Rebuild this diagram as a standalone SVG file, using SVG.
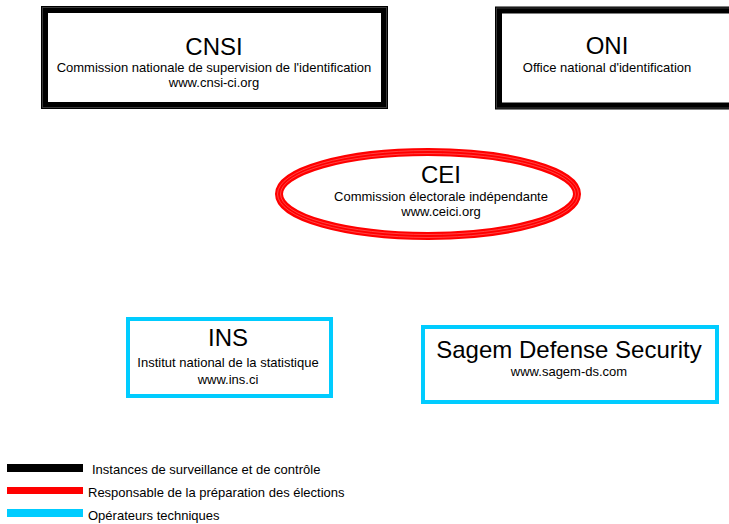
<svg xmlns="http://www.w3.org/2000/svg" width="729" height="524" viewBox="0 0 729 524">
<style>
text{font-family:"Liberation Sans",Arial,sans-serif;fill:#000;text-anchor:middle}
.t{font-size:24px}
.s{font-size:13px}
.blk{fill:#fff;stroke:#000;stroke-width:7}
.blkin{fill:none;stroke:#3a3a3a;stroke-width:1}
.cy{fill:#fff;stroke:#00ccff;stroke-width:4}
.leg{text-anchor:start;font-size:13px}
</style>
<rect width="729" height="524" fill="#fff"/>
<g id="cnsi">
<rect class="blk" x="44.5" y="9.5" width="340" height="96"/>
<rect class="blkin" x="42.5" y="7.5" width="344" height="100"/>
<text class="t" x="214" y="55">CNSI</text>
<text class="s" x="214" y="72">Commission nationale de supervision de l'identification</text>
<text class="s" x="214" y="87">www.cnsi-ci.org</text>
</g>
<g id="oni">
<rect class="blk" x="498.5" y="10" width="240" height="96"/>
<rect class="blkin" x="496.5" y="8" width="244" height="100"/>
<text class="t" x="607" y="54">ONI</text>
<text class="s" x="607" y="72">Office national d'identification</text>
</g>
<g id="cei">
<ellipse cx="428" cy="194" rx="149" ry="42" fill="#fff" stroke="#ff0000" stroke-width="8"/>
<ellipse cx="428" cy="194" rx="150.5" ry="43.5" fill="none" stroke="#ff6060" stroke-width="0.7"/>
<ellipse cx="428" cy="194" rx="147.5" ry="40.5" fill="none" stroke="#ff6060" stroke-width="0.7"/>
<text class="t" x="441" y="183">CEI</text>
<text class="s" x="441" y="201">Commission électorale indépendante</text>
<text class="s" x="441" y="216">www.ceici.org</text>
</g>
<g id="ins">
<rect class="cy" x="128" y="319" width="203" height="77"/>
<text class="t" x="228" y="346">INS</text>
<text class="s" x="228" y="367">Institut national de la statistique</text>
<text class="s" x="228" y="384">www.ins.ci</text>
</g>
<g id="sagem">
<rect class="cy" x="423" y="327" width="294" height="75"/>
<text class="t" x="569" y="358">Sagem Defense Security</text>
<text class="s" x="569" y="376">www.sagem-ds.com</text>
</g>
<g id="connectors"></g>
<g id="legend">
<rect x="7" y="464" width="76" height="8" fill="#000"/>
<text class="leg" x="92" y="474">Instances de surveillance et de contrôle</text>
<rect x="7" y="487" width="76" height="7" fill="#ff0000"/>
<text class="leg" x="88" y="497">Responsable de la préparation des élections</text>
<rect x="7" y="509" width="76" height="8" fill="#00ccff"/>
<text class="leg" x="88" y="520">Opérateurs techniques</text>
</g>
</svg>
